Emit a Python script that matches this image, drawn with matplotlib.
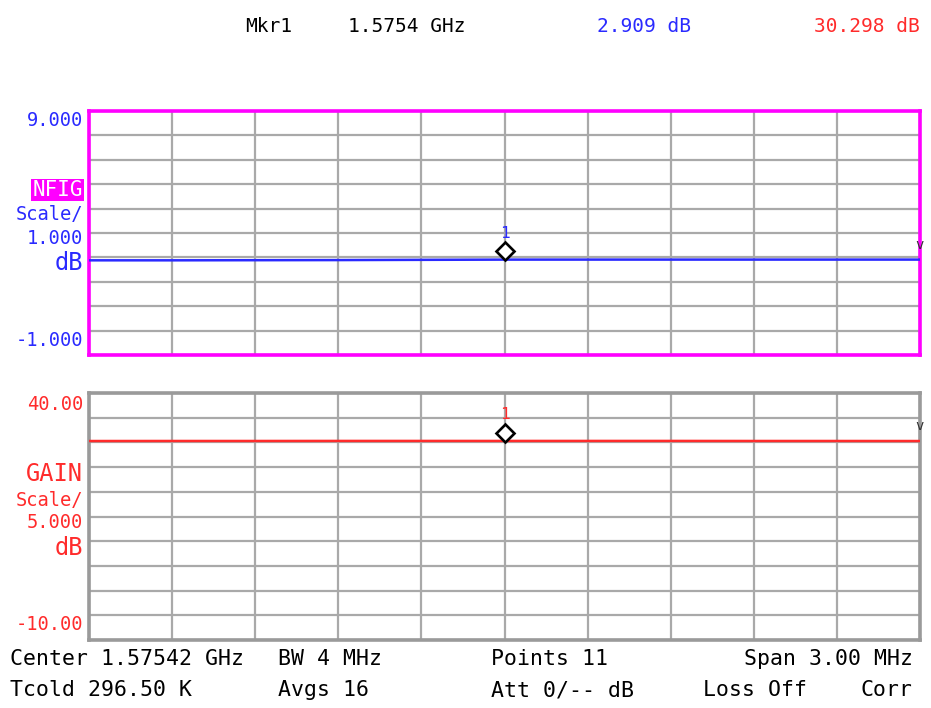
import numpy as np
import matplotlib
matplotlib.use("Agg")
import matplotlib.pyplot as plt
from matplotlib import transforms

# sweep: 11 points over 3 MHz span around 1.57542 GHz
freq_ghz = [1.57392, 1.57422, 1.57452, 1.57482, 1.57512, 1.57542,
            1.57572, 1.57602, 1.57632, 1.57662, 1.57692]
nfig_db = [2.88, 2.88, 2.885, 2.89, 2.90, 2.909, 2.91, 2.91, 2.91, 2.91, 2.91]
gain_db = [30.28, 30.29, 30.29, 30.30, 30.30, 30.298, 30.30, 30.30, 30.29, 30.29, 30.28]

mkr_freq = 1.57542
mkr_nfig = 2.909
mkr_gain = 30.298

nfig_ticks = ["9.000", "-1.000"]
gain_ticks = ["40.00", "-10.00"]

W, H = 931, 708
BLUE = "#2a2aff"
RED = "#ff2b2b"
MAG = "#ff00ff"
GRID = "#a9a9a9"
FONT = "DejaVu Sans Mono"

fig = plt.figure(figsize=(W / 100, H / 100), dpi=100)


def box(l, t, r, b):
    return [l / W, 1 - b / H, (r - l) / W, (b - t) / H]


def txt(x, y, s, color="black", size=13.5, ha="left", **kw):
    fig.text(x / W, 1 - y / H, s, color=color, fontsize=size, ha=ha,
             va="center", family=FONT, **kw)


def panel(rect, freqs, vals, ylo, yhi, trace_col, frame_col, mval):
    ax = fig.add_axes(rect)
    ax.plot(freqs, vals, color=trace_col, lw=1.8, zorder=3)
    ax.set_xlim(freqs[0], freqs[-1])
    ax.set_ylim(ylo, yhi)
    ax.set_xticks(np.linspace(freqs[0], freqs[-1], 11))
    ax.set_yticks(np.linspace(ylo, yhi, 11))
    ax.tick_params(length=0, labelleft=False, labelbottom=False)
    ax.grid(True, color=GRID, lw=1.6)
    ax.set_axisbelow(True)
    for sp in ax.spines.values():
        sp.set_color(frame_col)
        sp.set_linewidth(2.6)
    # marker sits a few pixels above the trace, like the analyser draws it
    off = transforms.offset_copy(ax.transData, fig=fig, x=0, y=6, units="points")
    ax.plot([mkr_freq], [mval], marker="D", ms=9, mfc="white", mec="black",
            mew=1.9, transform=off, zorder=5, clip_on=False)
    off2 = transforms.offset_copy(ax.transData, fig=fig, x=0, y=19, units="points")
    ax.text(mkr_freq, mval, "1", color=trace_col, fontsize=11.5, ha="center",
            va="center", family=FONT, transform=off2)
    # little overrange chevron at the right edge
    ax.text(1.0, (mval - ylo) / (yhi - ylo) + 0.06, "v", transform=ax.transAxes,
            color="#333333", fontsize=10, ha="center", va="center",
            family=FONT, clip_on=False)
    return ax


panel(box(89, 111, 920, 355), freq_ghz, nfig_db, -1, 9, BLUE, MAG, mkr_nfig)
panel(box(89, 393, 920, 640), freq_ghz, gain_db, -10, 40, RED, "#9a9a9a", mkr_gain)

# header
txt(245, 26, "Mkr1", size=14)
txt(348, 26, "1.5754 GHz", size=14)
txt(691, 26, "2.909 dB", color=BLUE, size=14, ha="right")
txt(920, 26, "30.298 dB", color=RED, size=14, ha="right")

# noise figure labels
txt(83, 121, nfig_ticks[0], color=BLUE, ha="right")
txt(83, 190, "NFIG", color="white", size=15, ha="right",
    bbox=dict(boxstyle="square,pad=0.05", fc=MAG, ec="none"))
txt(83, 215, "Scale/", color=BLUE, ha="right")
txt(83, 239, "1.000", color=BLUE, ha="right")
txt(83, 263, "dB", color=BLUE, size=17, ha="right")
txt(83, 340, nfig_ticks[1], color=BLUE, ha="right")

# gain labels
txt(83, 405, gain_ticks[0], color=RED, ha="right")
txt(83, 474, "GAIN", color=RED, size=17, ha="right")
txt(83, 500, "Scale/", color=RED, ha="right")
txt(83, 523, "5.000", color=RED, ha="right")
txt(83, 548, "dB", color=RED, size=17, ha="right")
txt(83, 625, gain_ticks[1], color=RED, ha="right")

# footer
fs = 15.5
txt(10, 659, "Center 1.57542 GHz", size=fs)
txt(278, 659, "BW 4 MHz", size=fs)
txt(491, 659, "Points 11", size=fs)
txt(913, 659, "Span 3.00 MHz", size=fs, ha="right")
txt(10, 690, "Tcold 296.50 K", size=fs)
txt(278, 690, "Avgs 16", size=fs)
txt(491, 690, "Att 0/-- dB", size=fs)
txt(703, 690, "Loss Off", size=fs)
txt(913, 690, "Corr", size=fs, ha="right")

fig.savefig("out.png", dpi=100, facecolor="white")
